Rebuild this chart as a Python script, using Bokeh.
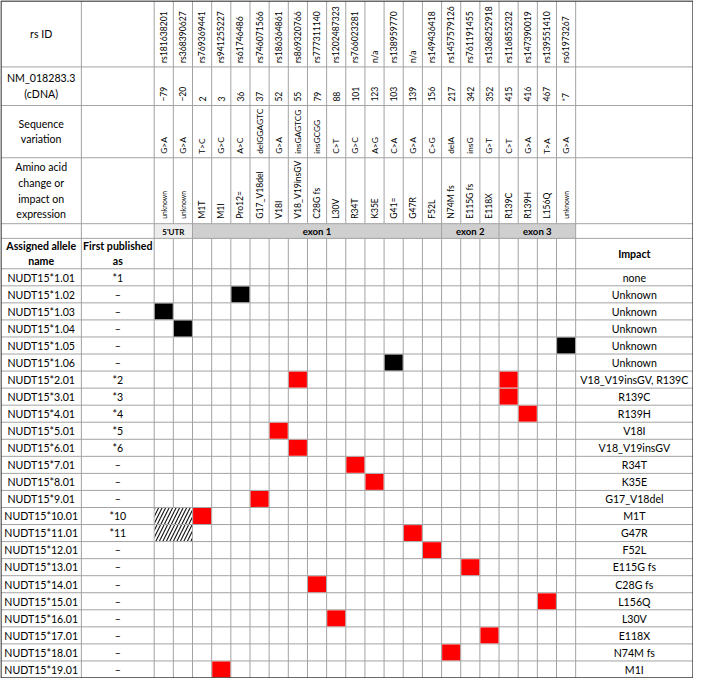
import math
from bokeh.plotting import figure
from bokeh.models import Range1d
from bokeh.core.properties import value
from bokeh.embed import file_html
from bokeh.resources import INLINE

# ---------------- data ----------------
rs_ids = ["rs181638201", "rs368390627", "rs769369441", "rs941255227", "rs61746486",
          "rs746071566", "rs186364861", "rs869320766", "rs777311140", "rs1202487323",
          "rs766023281", "n/a", "rs138959770", "n/a", "rs149436418", "rs1457579126",
          "rs761191455", "rs1368252918", "rs116855232", "rs147390019", "rs139551410",
          "rs61973267"]
cdna_pos = ["\u221279", "\u221220", "2", "3", "36", "37", "52", "55", "79", "88", "101",
            "123", "103", "139", "156", "217", "342", "352", "415", "416", "467", "*7"]
seq_variation = ["G>A", "G>A", "T>C", "G>C", "A>C", "delGGAGTC", "G>A", "insGAGTCG",
                 "insGCGG", "C>T", "G>C", "A>G", "C>A", "G>A", "C>G", "delA", "insG",
                 "G>T", "C>T", "G>A", "T>A", "G>A"]
aa_change = ["unknown", "unknown", "M1T", "M1I", "Pro12=", "G17_V18del", "V18I",
             "V18_V19insGV", "C28G fs", "L30V", "R34T", "K35E", "G41=", "G47R", "F52L",
             "N74M fs", "E115G fs", "E118X", "R139C", "R139H", "L156Q", "unknown"]
region_names = ["5'UTR", "exon 1", "exon 2", "exon 3"]
region_first = [0, 2, 15, 18]
region_last = [1, 14, 17, 21]

alleles = ["NUDT15*1.01", "NUDT15*1.02", "NUDT15*1.03", "NUDT15*1.04", "NUDT15*1.05",
           "NUDT15*1.06", "NUDT15*2.01", "NUDT15*3.01", "NUDT15*4.01", "NUDT15*5.01",
           "NUDT15*6.01", "NUDT15*7.01", "NUDT15*8.01", "NUDT15*9.01", "NUDT15*10.01",
           "NUDT15*11.01", "NUDT15*12.01", "NUDT15*13.01", "NUDT15*14.01", "NUDT15*15.01",
           "NUDT15*16.01", "NUDT15*17.01", "NUDT15*18.01", "NUDT15*19.01"]
first_published = ["*1", "\u2013", "\u2013", "\u2013", "\u2013", "\u2013", "*2", "*3", "*4",
                   "*5", "*6", "\u2013", "\u2013", "\u2013", "*10", "*11", "\u2013", "\u2013",
                   "\u2013", "\u2013", "\u2013", "\u2013", "\u2013", "\u2013"]
impact = ["none", "Unknown", "Unknown", "Unknown", "Unknown", "Unknown",
          "V18_V19insGV, R139C", "R139C", "R139H", "V18I", "V18_V19insGV", "R34T", "K35E",
          "G17_V18del", "M1T", "G47R", "F52L", "E115G fs", "C28G fs", "L156Q", "L30V",
          "E118X", "N74M fs", "M1I"]

# which allele (row index) carries which variant (column index)
black_rows = [1, 2, 3, 4, 5]
black_cols = [4, 0, 1, 21, 12]
red_rows = [6, 6, 7, 8, 9, 10, 11, 12, 13, 14, 15, 16, 17, 18, 19, 20, 21, 22, 23]
red_cols = [7, 18, 18, 19, 6, 7, 10, 11, 5, 2, 13, 14, 16, 8, 20, 9, 17, 15, 3]
hatch_rows = [14, 15]
hatch_first_col = 0
hatch_last_col = 1

# ---------------- layout ----------------
XL, XA, XV, XR = 1.0, 83.0, 157.3, 707.0
NV = len(rs_ids)
CW = 19.545
XI = XV + NV * CW
YH = [1.0, 68.3, 107.7, 161.0, 228.3, 243.3, 274.3]
YB = 692.0
NR = len(alleles)
RH = (YB - YH[-1]) / NR

FONT = value("Lato")
TXT = "#000000"
GRID = "#a3a3a3"

p = figure(width=693, height=678, x_range=Range1d(0.5, 707.5), y_range=Range1d(692.5, 0.5),
           output_backend="svg", toolbar_location=None, min_border=0,
           x_axis_location=None, y_axis_location=None, tools="")
p.grid.visible = False
p.outline_line_color = None
p.background_fill_color = "white"
p.border_fill_color = "white"

def vx(i):
    return XV + i * CW

def ry(r):
    return YH[-1] + r * RH

# exon / UTR bands
p.quad(left=[vx(a) for a in region_first], right=[vx(b + 1) for b in region_last],
       top=[YH[4]] * len(region_names), bottom=[YH[5]] * len(region_names),
       fill_color=["#ececec", "#cfcfcf", "#cfcfcf", "#cfcfcf"], line_color=None)

# grid lines
x0s, x1s, y0s, y1s = [], [], [], []
for y in YH[1:]:
    x0s.append(XL); x1s.append(XR); y0s.append(y); y1s.append(y)
for r in range(1, NR):
    x0s.append(XL); x1s.append(XR); y0s.append(ry(r)); y1s.append(ry(r))
for x in (XA, XV, XI):
    x0s.append(x); x1s.append(x); y0s.append(YH[0]); y1s.append(YB)
band_edges = set(region_first)
for i in range(1, NV):
    x = vx(i)
    x0s += [x, x]; x1s += [x, x]
    y0s += [YH[0], YH[5]]; y1s += [YH[4], YB]
    if i in band_edges:
        x0s.append(x); x1s.append(x); y0s.append(YH[4]); y1s.append(YH[5])
p.segment(x0=x0s, x1=x1s, y0=y0s, y1=y1s, line_color=GRID, line_width=1)

# hatched cells
p.quad(left=[vx(hatch_first_col) + 0.5] * len(hatch_rows),
       right=[vx(hatch_last_col + 1) - 0.5] * len(hatch_rows),
       top=[ry(r) + 0.5 for r in hatch_rows], bottom=[ry(r + 1) - 0.5 for r in hatch_rows],
       fill_color="white", line_color=None, hatch_pattern="/", hatch_color="#111111",
       hatch_scale=7, hatch_weight=1.1)

# variant marks
p.quad(left=[vx(c) + 0.6 for c in black_cols], right=[vx(c + 1) - 0.6 for c in black_cols],
       top=[ry(r) + 0.6 for r in black_rows], bottom=[ry(r + 1) - 0.6 for r in black_rows],
       fill_color="#000000", line_color=None)
p.quad(left=[vx(c) + 0.6 for c in red_cols], right=[vx(c + 1) - 0.6 for c in red_cols],
       top=[ry(r) + 0.6 for r in red_rows], bottom=[ry(r + 1) - 0.6 for r in red_rows],
       fill_color="#ff0000", line_color=None)

# outer border
p.quad(left=[XL], right=[XR], top=[YH[0]], bottom=[YB], fill_color=None,
       line_color="#3a3a3a", line_width=1.4)

# rotated header texts
cx = [vx(i) + CW / 2 for i in range(NV)]
p.text(x=cx, y=[YH[1] - 4] * NV, text=rs_ids, angle=math.pi / 2, text_align="left",
       text_baseline="middle", text_font=FONT, text_font_size="8.6px", text_color=TXT)
p.text(x=cx, y=[YH[2] - 4] * NV, text=cdna_pos, angle=math.pi / 2, text_align="left",
       text_baseline="middle", text_font=FONT, text_font_size="8.6px", text_color=TXT)
p.text(x=cx, y=[YH[3] - 4] * NV, text=seq_variation, angle=math.pi / 2, text_align="left",
       text_baseline="middle", text_font=FONT, text_font_size="8.4px", text_color=TXT)
aa_sizes = ["6.8px" if a == "unknown" else "8.6px" for a in aa_change]
p.text(x=cx, y=[YH[4] - 5] * NV, text=aa_change, angle=math.pi / 2, text_align="left",
       text_baseline="middle", text_font=FONT, text_font_size=aa_sizes, text_color=TXT)

# region labels
p.text(x=[(vx(a) + vx(b + 1)) / 2 for a, b in zip(region_first, region_last)],
       y=[(YH[4] + YH[5]) / 2 + 0.5] * len(region_names), text=region_names,
       text_align="center", text_baseline="middle", text_font=FONT,
       text_font_size=["8px", "9.6px", "9.6px", "9.6px"], text_font_style="bold",
       text_color=TXT)

# left header labels
hdr = ["rs ID", "NM_018283.3\n(cDNA)", "Sequence\nvariation",
       "Amino acid\nchange or\nimpact on\nexpression"]
p.text(x=[(XL + XA) / 2] * 4, y=[(YH[i] + YH[i + 1]) / 2 for i in range(4)], text=hdr,
       text_align="center", text_baseline="middle", text_font=FONT, text_font_size="10.6px",
       text_line_height=1.3, text_color=TXT)

# table column headers
p.text(x=[(XL + XA) / 2, (XA + XV) / 2, (XI + XR) / 2], y=[(YH[5] + YH[6]) / 2] * 3,
       text=["Assigned allele\nname", "First published\nas", "Impact"],
       text_align="center", text_baseline="middle", text_font=FONT, text_font_size="10.6px",
       text_font_style="bold", text_line_height=1.3, text_color=TXT)

# allele rows
rc = [ry(r) + RH / 2 + 0.3 for r in range(NR)]
p.text(x=[(XL + XA) / 2] * NR, y=rc, text=alleles, text_align="center",
       text_baseline="middle", text_font=FONT, text_font_size="10.6px", text_color=TXT)
p.text(x=[(XA + XV) / 2] * NR, y=rc, text=first_published, text_align="center",
       text_baseline="middle", text_font=FONT, text_font_size="10.6px", text_color=TXT)
p.text(x=[(XI + XR) / 2] * NR, y=rc, text=impact, text_align="center",
       text_baseline="middle", text_font=FONT, text_font_size="10.6px", text_color=TXT)

open("out.html", "w").write(file_html(p, INLINE))
